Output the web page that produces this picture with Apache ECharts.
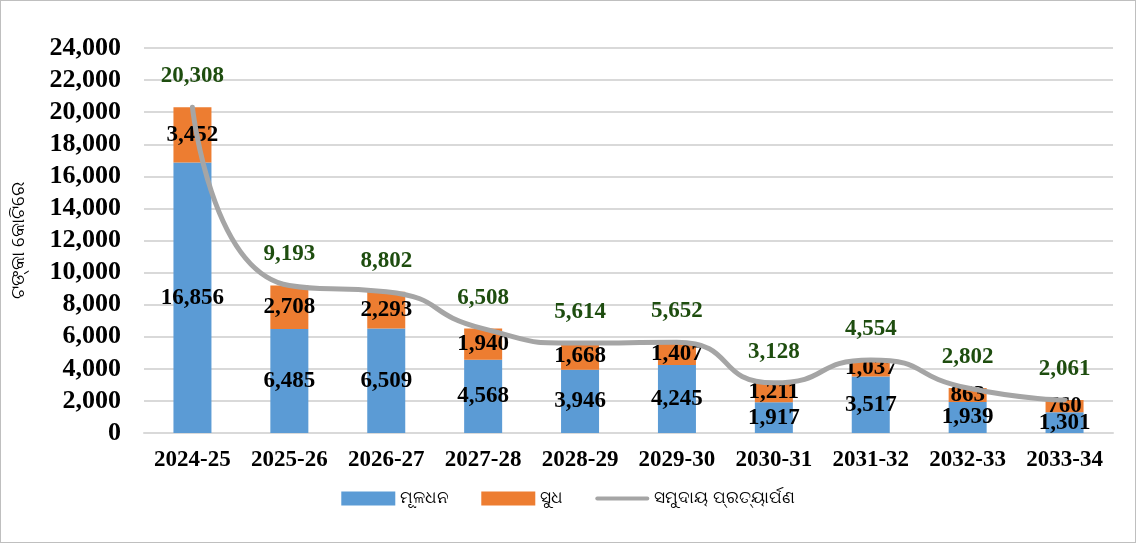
<!DOCTYPE html>
<html>
<head>
<meta charset="utf-8">
<script src="https://cdn.jsdelivr.net/npm/echarts@6/dist/echarts.min.js"></script>
<style>
    html, body { margin: 0; padding: 0; background: #fff; }
    #chart {
        width: 1134px;
        height: 541px;
        border: 1px solid #bfbfbf;
    }
</style>
</head>
<body>
<div id="chart"></div>
<script>
const years = ["2024-25", "2025-26", "2026-27", "2027-28", "2028-29",
    "2029-30", "2030-31", "2031-32", "2032-33", "2033-34"];
const principal = [16856, 6485, 6509, 4568, 3946, 4245, 1917, 3517, 1939, 1301];
const interest = [3452, 2708, 2293, 1940, 1668, 1407, 1211, 1037, 863, 760];
const total = [20308, 9193, 8802, 6508, 5614, 5652, 3128, 4554, 2802, 2061];
const names = ["ମୂଳଧନ", "ସୁଧ", "ସମୁଦାୟ ପ୍ରତ୍ୟାର୍ପଣ"];

const serif = "'Liberation Serif', 'Times New Roman', serif";
const fmt = v => v.toLocaleString("en-US");

const graph = echarts.init(document.getElementById("chart"));

const barLabel = {
    show: true,
    position: "inside",
    fontFamily: serif,
    fontWeight: "bold",
    fontSize: 23,
    color: "#000",
    formatter: p => fmt(p.value)
};

const option = {
    animation: false,
    grid: {
        left: 140,
        right: 22,
        top: 47,
        bottom: 109
    },
    legend: {
        bottom: 30,
        left: "center",
        itemWidth: 54,
        itemHeight: 14,
        itemGap: 32,
        textStyle: {
            fontSize: 17,
            color: "#000",
            fontFamily: "'Noto Sans', sans-serif"
        },
        data: [
            { name: names[0], icon: "rect" },
            { name: names[1], icon: "rect" },
            {
                name: names[2],
                icon: "path://M2,0 L52,0 A2,2 0 0 1 52,4 L2,4 A2,2 0 0 1 2,0 Z",
                itemStyle: { color: "#a5a5a5", opacity: 1 }
            }
        ]
    },
    xAxis: {
        type: "category",
        data: years,
        axisLine: { lineStyle: { color: "#d9d9d9", width: 2 } },
        axisTick: { show: false },
        axisLabel: {
            interval: 0,
            color: "#000",
            fontFamily: serif,
            fontWeight: "bold",
            fontSize: 23,
            margin: 16
        }
    },
    yAxis: {
        type: "value",
        min: 0,
        max: 24000,
        interval: 2000,
        name: "ଟଙ୍କା କୋଟିରେ",
        nameLocation: "middle",
        nameGap: 116,
        nameTextStyle: {
            color: "#000",
            fontSize: 19,
            fontFamily: "'Noto Sans', sans-serif"
        },
        axisLine: { show: false },
        axisTick: { show: false },
        splitLine: { lineStyle: { color: "#d9d9d9", width: 2 } },
        axisLabel: {
            color: "#000",
            fontFamily: serif,
            fontWeight: "bold",
            fontSize: 26,
            margin: 23,
            formatter: v => fmt(v)
        }
    },
    series: [
        {
            name: names[0],
            type: "bar",
            stack: "a",
            barWidth: 38,
            itemStyle: { color: "#5b9bd5" },
            label: barLabel,
            data: principal
        },
        {
            name: names[1],
            type: "bar",
            stack: "a",
            itemStyle: { color: "#ed7d31" },
            label: barLabel,
            data: interest
        },
        {
            name: names[2],
            type: "line",
            smooth: 0.6,
            symbol: "circle",
            symbolSize: 1,
            showSymbol: true,
            lineStyle: { color: "#a5a5a5", width: 5, cap: "round" },
            itemStyle: { color: "rgba(165,165,165,0)" },
            label: {
                show: true,
                position: "top",
                distance: 19,
                fontFamily: serif,
                fontWeight: "bold",
                fontSize: 23,
                color: "#1e4d0f",
                formatter: p => fmt(p.value)
            },
            z: 5,
            data: total
        }
    ]
};

graph.setOption(option);
</script>
</body>
</html>
